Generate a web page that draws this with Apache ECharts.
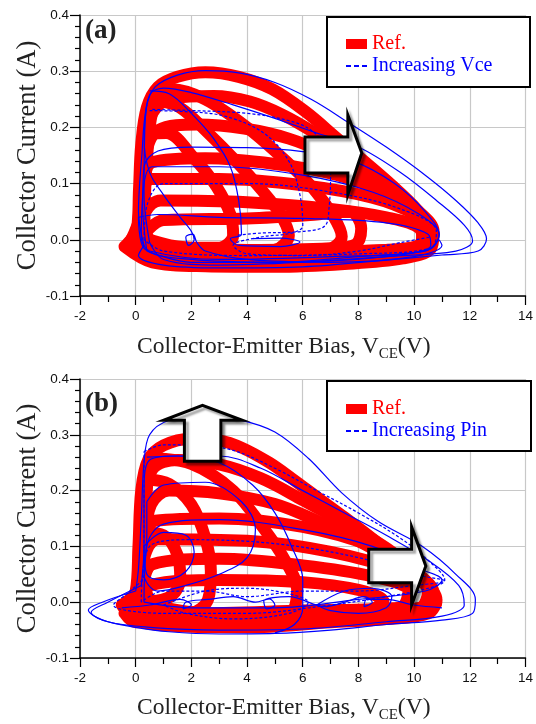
<!DOCTYPE html>
<html><head><meta charset="utf-8">
<script src="https://cdn.jsdelivr.net/npm/echarts@6/dist/echarts.min.js"></script>
<style>html,body{margin:0;padding:0;background:#fff}#c{width:536px;height:724px}</style>
</head><body><div id="c"></div>
<script>
// ---------- axis ticks ----------
const xTicks = [-2, 0, 2, 4, 6, 8, 10, 12, 14];
const yTicks = [-0.1, 0.0, 0.1, 0.2, 0.3, 0.4];

// ---------- panel (a): reference loops (red, thick) ----------
const redA1 = [[-0.4,-0.012],[0.05,0.02],[0.12,0.09],[0.2,0.17],[0.4,0.235],[0.8,0.272],[1.5,0.29],[2.5,0.298],[3.7,0.29],[4.9,0.268],[6.1,0.228],[7.2,0.182],[8.2,0.14],[9.2,0.097],[10.1,0.054],[10.7,0.015],[10.6,-0.016],[9.6,-0.033],[7.5,-0.043],[5,-0.048],[2.5,-0.047],[0.6,-0.04],[-0.4,-0.012]];
const redA2 = [[-0.2,-0.004],[0.2,0.05],[0.3,0.15],[0.5,0.215],[1.1,0.248],[2.8,0.256],[4.1,0.246],[5.3,0.222],[6.5,0.188],[7.7,0.148],[8.9,0.104],[9.9,0.06],[10.5,0.02],[10.4,-0.01],[9,-0.026],[6,-0.036],[3,-0.04],[0.6,-0.03],[-0.2,-0.004]];
const redA3 = [[0,0],[0.25,0.08],[0.35,0.15],[0.8,0.195],[2.2,0.205],[3.9,0.198],[5.5,0.18],[7,0.15],[8.4,0.112],[9.6,0.066],[10.3,0.026],[10.2,-0.008],[8.5,-0.02],[5.5,-0.03],[2.5,-0.032],[0.4,-0.022],[0,0]];
const redA4 = [[0.1,0],[0.25,0.09],[0.6,0.138],[2.5,0.145],[5,0.135],[7.2,0.116],[9,0.082],[10.1,0.042],[10.5,0.006],[10,-0.015],[7,-0.025],[4,-0.028],[1,-0.02],[0.1,0]];
const redA5 = [[0.05,0],[0.2,0.07],[0.55,0.108],[3,0.108],[6,0.097],[8.5,0.075],[10,0.046],[10.6,0.016],[10.4,-0.012],[8,-0.02],[4,-0.025],[0.8,-0.018],[0.05,0]];
const redA6 = [[0.1,0],[0.35,0.05],[0.9,0.07],[4,0.067],[7,0.055],[9,0.04],[10.2,0.02],[10.3,-0.005],[9,-0.018],[5,-0.022],[1.5,-0.02],[0.1,0]];
const redA7 = [[0.2,0.005],[1,0.035],[4,0.038],[6.5,0.045],[7.7,0.05],[8.1,0.02],[7.9,-0.008],[7,-0.015],[4,-0.018],[1.5,-0.012],[0.2,0.005]];
const redA8 = [[0.2,0],[0.3,0.12],[0.5,0.22],[0.9,0.245],[1.6,0.235],[2.6,0.19],[3.6,0.14],[4.5,0.09],[5.2,0.045],[5.5,0.008],[5,-0.018],[2.5,-0.028],[0.8,-0.02],[0.2,0]];
const redA9 = [[0.3,0],[0.4,0.14],[0.7,0.245],[1.3,0.268],[2.5,0.25],[4,0.2],[5.4,0.14],[6.4,0.09],[7.1,0.042],[7.4,0.006],[6.9,-0.018],[4,-0.032],[1,-0.026],[0.3,0]];
const redA10 = [[0.3,0.12],[0.5,0.185],[1.1,0.19],[2.1,0.145],[2.9,0.095],[3.4,0.045],[3.5,0.008],[3,-0.014],[1.6,-0.014],[0.6,-0.006],[0.3,0.05],[0.3,0.12]];

// ---------- panel (a): increasing Vce (blue, thin) ----------
const bluA1 = [[0.3,-0.01],[0.1,0.05],[0.22,0.15],[0.38,0.235],[0.7,0.272],[1.5,0.293],[2.5,0.301],[3.7,0.297],[5,0.28],[6.3,0.25],[7.6,0.21],[9,0.165],[10.4,0.115],[11.5,0.07],[12.3,0.03],[12.6,0.002],[12.3,-0.02],[11,-0.027],[9,-0.036],[6,-0.048],[3,-0.05],[1,-0.045],[0.1,-0.028],[0.3,-0.01]];
const bluA2 = [[0.5,-0.005],[0.3,0.08],[0.33,0.2],[0.5,0.258],[1,0.27],[2,0.262],[3.5,0.24],[5,0.216],[6.5,0.19],[8,0.165],[9.5,0.12],[10.8,0.07],[11.8,0.026],[12.1,-0.002],[11.5,-0.02],[9,-0.03],[6,-0.04],[3,-0.045],[1,-0.035],[0.5,-0.005]];
const bluA3 = [[0.4,-0.02],[0.25,0.06],[0.3,0.13],[0.8,0.158],[2,0.165],[4,0.164],[6,0.157],[7.8,0.14],[9.3,0.1],[10.4,0.05],[10.9,0.008],[10.5,-0.018],[8,-0.03],[5,-0.04],[2,-0.04],[0.4,-0.02]];
const bluA4 = [[0.2,0],[0.3,0.1],[0.6,0.13],[3,0.13],[6,0.115],[8.5,0.085],[10.2,0.045],[10.9,0.01],[10.4,-0.02],[7,-0.03],[3,-0.035],[0.5,-0.02],[0.2,0]];
const bluA5 = [[0.3,0],[0.4,0.06],[1,0.1],[4,0.1],[7,0.085],[9.5,0.055],[10.8,0.015],[10.6,-0.015],[8,-0.025],[4,-0.028],[1,-0.02],[0.3,0]];
const bluA6 = [[0.1,0.04],[0.8,0.045],[3,0.04],[6,0.038],[9,0.03],[10.5,0.01],[10.6,-0.01],[9,-0.03],[5,-0.04],[2,-0.035],[0.3,-0.015],[0.1,0.04]];
const bluA7 = [[0.5,0.265],[1.2,0.26],[2,0.225],[2.8,0.18],[3.4,0.13],[3.7,0.07],[3.8,0.01],[3.4,0.002],[3.7,-0.01],[5.2,-0.012],[5.9,-0.004],[5.2,0.003],[4.2,0.002]];
const bluA8 = [[0.5,0.23],[1.8,0.228],[3.2,0.22],[4.6,0.19],[5.5,0.14],[5.9,0.08],[6,0.025],[5.6,0.012],[4.5,0.005],[3.5,-0.01],[4,-0.025],[6,-0.028],[8,-0.02],[9.5,-0.005],[10.6,0.005]];
const bluA9 = [[0.6,0.232],[2,0.23],[4,0.225],[5.5,0.212],[6.3,0.195],[6.9,0.16],[7,0.12],[6.95,0.06],[6.8,0.025],[6,0.015],[4.5,0.012],[3.6,0.008]];
const bluA10 = [[0.4,0.24],[0.3,0.18],[0.5,0.12],[1,0.08],[1.6,0.04],[2,0.015],[2.1,0],[1.9,-0.01],[1.8,0.005],[2.05,0.01],[2.2,-0.005],[2.5,-0.02],[4,-0.035],[7,-0.04],[10,-0.03],[11,-0.01],[10.9,0]];

// ---------- panel (b): reference loops (red, thick) ----------
const redB1 = [[-0.5,-0.005],[0,0.02],[0.1,0.1],[0.2,0.2],[0.45,0.255],[1,0.281],[2,0.293],[3,0.29],[3.8,0.277],[4.8,0.25],[5.6,0.222],[6.6,0.185],[7.5,0.152],[8.6,0.11],[9.6,0.07],[10.4,0.035],[10.8,0.005],[10.5,-0.02],[9,-0.03],[7,-0.036],[4,-0.045],[1.5,-0.043],[0,-0.032],[-0.5,-0.005]];
const redB2 = [[-0.2,-0.01],[0.2,0.05],[0.3,0.17],[0.6,0.238],[1.5,0.255],[3,0.247],[4.5,0.222],[6,0.183],[7.5,0.142],[9,0.097],[10,0.057],[10.7,0.016],[10.5,-0.015],[8.5,-0.025],[5,-0.035],[2,-0.036],[-0.2,-0.01]];
const redB3 = [[0,-0.005],[0.3,0.1],[0.55,0.175],[1.2,0.2],[3,0.195],[5,0.176],[6.5,0.146],[8,0.11],[9.4,0.07],[10.5,0.03],[10.8,0],[10.2,-0.018],[7,-0.025],[4,-0.03],[1,-0.025],[0,-0.005]];
const redB4 = [[0.1,0],[0.3,0.1],[0.7,0.146],[3,0.15],[6,0.135],[8.5,0.1],[10,0.056],[10.6,0.015],[10.3,-0.01],[8,-0.02],[4,-0.025],[1,-0.02],[0.1,0]];
const redB5 = [[0.1,0],[0.3,0.08],[0.8,0.113],[4,0.11],[7,0.09],[9.5,0.055],[10.5,0.02],[10.2,-0.01],[7,-0.02],[3,-0.022],[0.1,0]];
const redB6 = [[0.2,0],[0.6,0.068],[3,0.078],[6,0.066],[8.5,0.046],[9.8,0.02],[9.5,-0.01],[6,-0.015],[2,-0.02],[0.2,0]];
const redB7 = [[-0.4,-0.02],[0.5,0.03],[3,0.04],[6,0.036],[8,0.022],[8.9,0.002],[8,-0.02],[5,-0.03],[2,-0.036],[0,-0.036],[-0.4,-0.02]];
const redB8 = [[0.4,0.22],[1.2,0.212],[2,0.175],[2.5,0.115],[2.7,0.055],[2.6,0.005],[2,-0.018],[1,-0.014],[0.3,0],[0.3,0.1],[0.4,0.22]];
const redB9 = [[0.5,0.258],[2,0.248],[3.5,0.2],[4.6,0.132],[5.4,0.072],[5.8,0.022],[5.5,-0.02],[3,-0.03],[0.5,-0.02],[0.3,0.1],[0.5,0.258]];
const redB10 = [[0.3,0.125],[1,0.12],[1.5,0.085],[1.6,0.042],[1.3,0.012],[0.6,0.002],[0.3,0.05],[0.3,0.125]];

// ---------- panel (b): increasing Pin (blue, thin) ----------
const bluB1 = [[0,0.02],[-1.2,0],[-1.7,-0.014],[-1.2,-0.032],[0,-0.045],[1.2,-0.053],[3,-0.057],[5,-0.056],[7,-0.05],[9,-0.04],[11,-0.032],[12.1,-0.02],[12.2,0.005],[11.5,0.05],[10.3,0.1],[8.7,0.145],[7.4,0.196],[6.2,0.258],[5,0.305],[3.8,0.326],[2.5,0.333],[1.2,0.326],[0.5,0.3],[0.3,0.25],[0.2,0.15],[0.1,0.06],[0,0.02]];
const bluB2 = [[0.2,0.03],[-1,0],[-1.6,-0.018],[-1,-0.035],[0.5,-0.045],[3,-0.05],[6,-0.048],[9,-0.035],[11,-0.025],[11.8,-0.005],[11.6,0.03],[10.5,0.075],[9,0.12],[7.5,0.16],[6,0.2],[4.5,0.24],[3,0.262],[1.5,0.262],[0.5,0.255],[0.3,0.2],[0.3,0.1],[0.2,0.03]];
const bluB3 = [[0.3,0.27],[1,0.282],[2,0.282],[3.5,0.272],[5,0.24],[6.5,0.2],[8,0.16],[9.5,0.115],[10.5,0.075],[11.1,0.04],[10.5,0.025],[9,0.01],[7,-0.005],[4,-0.02],[1,-0.02],[-0.8,-0.005],[-0.2,0.02],[0.3,0.05],[0.3,0.27]];
const bluB4 = [[0.3,0],[0.4,0.1],[1,0.14],[3,0.148],[6,0.13],[8.5,0.1],[10.2,0.06],[11,0.04],[10.4,0.02],[8,0.005],[5,-0.01],[2,-0.01],[0.3,0]];
const bluB5 = [[0.2,0],[0.5,0.1],[2,0.112],[5,0.105],[8,0.08],[10,0.05],[11.1,0.038],[10,0.03],[8,0.02],[6,0.02],[4,0.01],[2.5,0.02],[1,0.02],[0.2,0]];
const bluB6 = [[0.4,0.18],[1,0.21],[2.5,0.215],[3.8,0.18],[4.3,0.13],[4,0.08],[3,0.05],[1.8,0.03],[0.8,0.02],[0.3,0.05],[0.4,0.12],[0.4,0.18]];
const bluB7 = [[0.3,0.1],[1,0.125],[1.8,0.12],[2.1,0.09],[1.8,0.055],[1,0.04],[0.4,0.05],[0.3,0.1]];
const bluB8 = [[0.4,0.26],[1.5,0.262],[3,0.25],[4.2,0.21],[5,0.16],[5.6,0.1],[6,0.04],[6,-0.01],[5.7,-0.04],[5,-0.055]];
const bluB9 = [[-0.5,-0.01],[0.5,-0.005],[1.6,0.005],[2,-0.005],[1.7,-0.012],[1.8,0],[2.6,0.005],[3.5,0.01],[4.3,0],[4.8,0.006],[5,-0.005],[4.7,-0.012],[4.6,0.002],[5.5,0.01],[6.8,-0.008],[7.5,0],[8.2,0.01],[8.5,0],[8.2,-0.008],[8.3,0.005],[9,0.005],[10,-0.005],[11,-0.01]];
const bluB10 = [[6.5,-0.005],[7.5,0.02],[8.5,0.025],[9.2,0.01],[9,-0.01],[8,-0.02],[7,-0.015],[6.5,-0.005]];
const bluB11 = [[1,-0.005],[2.5,0.02],[4,0.025],[5.5,0.015],[6.2,0],[5.5,-0.02],[3.5,-0.03],[1.8,-0.02],[1,-0.005]];

// ---------- annotation arrows (data units) ----------
const arrowA = {bodyL:6.08, neck:7.62, tip:8.12, bodyTop:0.183, bodyBot:0.119, headTop:0.222, headBot:0.080, tipY:0.1545};
const arrowBup = {bodyL:1.75, bodyR:3.06, headL:1.0, headR:3.83, tipX:2.4, bodyBot:0.2526, neckY:0.326, tipY:0.3526};
const arrowBright = {bodyL:8.37, neck:9.91, tip:10.42, bodyTop:0.0947, bodyBot:0.035, headTop:0.135, headBot:-0.005, tipY:0.065};

const RED = '#ff0000', BLUE = '#0000ff';
const serif = "'Liberation Serif','Times New Roman',serif";
const sans = "'Liberation Sans',Arial,sans-serif";

const redA = [redA1,redA2,redA3,redA4,redA5,redA6,redA7,redA8,redA9,redA10];
const bluA = [[bluA1,'solid'],[bluA2,'solid'],[bluA3,'solid'],[bluA4,'solid'],[bluA5,[3,2]],[bluA6,'solid'],[bluA7,'solid'],[bluA8,[3,2]],[bluA9,[3,2]],[bluA10,'solid']];
const redB = [redB1,redB2,redB3,redB4,redB5,redB6,redB7,redB8,redB9,redB10];
const bluB = [[bluB1,'solid'],[bluB2,'solid'],[bluB3,[3,2]],[bluB4,'solid'],[bluB5,[3,2]],[bluB6,'solid'],[bluB7,'solid'],[bluB8,'solid'],[bluB9,'solid'],[bluB10,'solid'],[bluB11,[3,2]]];

function redSeries(d, gi){
  return {type:'line', name:'Ref.', xAxisIndex:gi, yAxisIndex:gi, data:d, symbol:'none', smooth:0.35,
    lineStyle:{color:RED, width:12, cap:'round', join:'round'}, itemStyle:{color:RED}, z:2, silent:true};
}
function bluSeries(d, type, gi, name){
  return {type:'line', name:name, xAxisIndex:gi, yAxisIndex:gi, data:d, symbol:'none', smooth:0.35,
    lineStyle:{color:BLUE, width:1.2, type:type}, itemStyle:{color:BLUE}, z:3, silent:true};
}

const series = [];
redA.forEach(d => series.push(redSeries(d,0)));
bluA.forEach(([d,t]) => series.push(bluSeries(d,t,0,'Increasing Vce')));
redB.forEach(d => series.push(redSeries(d,1)));
bluB.forEach(([d,t]) => series.push(bluSeries(d,t,1,'Increasing Pin')));

function xAxis(gi, gap){
  return {gridIndex:gi, type:'value', min:xTicks[0], max:xTicks[xTicks.length-1], interval:2,
    axisLine:{onZero:false, lineStyle:{color:'#000', width:1.5}},
    axisTick:{show:true, inside:false, length:9, lineStyle:{color:'#000', width:1.2}},
    minorTick:{show:true, splitNumber:2, length:6, lineStyle:{color:'#000', width:1.2}},
    axisLabel:{color:'#111', fontFamily:sans, fontSize:13.5, margin:13},
    splitLine:{show:true, lineStyle:{color:'#c8c8c8', width:1.2}},
    name:'Collector-Emitter Bias, V{s|CE}(V)', nameLocation:'middle', nameGap:gap, nameMoveOverlap:false,
    nameTextStyle:{fontFamily:serif, fontSize:23.5, color:'#222', lineHeight:30, padding:[0,38,0,0],
      rich:{s:{fontFamily:serif, fontSize:15, lineHeight:15, color:'#222', padding:[15,0,0,0], verticalAlign:'bottom'}}}
  };
}
function yAxis(gi){
  return {gridIndex:gi, type:'value', min:yTicks[0], max:yTicks[yTicks.length-1], interval:0.1,
    axisLine:{onZero:false, lineStyle:{color:'#000', width:1.5}},
    axisTick:{show:true, inside:false, length:10, lineStyle:{color:'#000', width:1.2}},
    minorTick:{show:true, splitNumber:5, length:5, lineStyle:{color:'#000', width:1.2}},
    axisLabel:{color:'#111', fontFamily:sans, fontSize:13.5, margin:11, formatter:v => v.toFixed(1)},
    splitLine:{show:true, lineStyle:{color:'#c8c8c8', width:1.2}},
    name:'Collector Current (A)', nameLocation:'middle', nameGap:38, nameRotate:90, nameMoveOverlap:false,
    nameTextStyle:{fontFamily:serif, fontSize:26.5, color:'#222'}
  };
}
const dashIcon = 'path://M0,0H5V2H0Z M8,0H13V2H8Z M16,0H21V2H16Z';
function legend(top, blueName){
  return {left:346, top:top, orient:'vertical', itemGap:0, itemWidth:21, itemHeight:10, padding:0, z:20,
    selectedMode:false, symbolKeepAspect:true, itemStyle:{borderWidth:0},
    textStyle:{fontFamily:serif, fontSize:20, lineHeight:22},
    data:[{name:'Ref.', icon:'rect', textStyle:{color:RED}}, {name:blueName, icon:dashIcon, textStyle:{color:BLUE}}]};
}

const chart = echarts.init(document.getElementById('c'), null, {renderer:'canvas'});
chart.setOption({
  animation:false,
  backgroundColor:'#fff',
  grid:[{left:80, right:9, top:15, height:281}, {left:80, right:9, top:379, height:285}],
  xAxis:[xAxis(0,36), xAxis(1,35)],
  yAxis:[yAxis(0), yAxis(1)],
  legend:[legend(33,'Increasing Vce'), legend(398,'Increasing Pin')],
  series:series
});

function P(gi, x, y){ return chart.convertToPixel({gridIndex:gi}, [x, y]); }
function rightArrow(gi, a){
  return [P(gi,a.bodyL,a.bodyTop),P(gi,a.neck,a.bodyTop),P(gi,a.neck,a.headTop),P(gi,a.tip,a.tipY),
          P(gi,a.neck,a.headBot),P(gi,a.neck,a.bodyBot),P(gi,a.bodyL,a.bodyBot)];
}
function upArrow(gi, a){
  return [P(gi,a.bodyL,a.bodyBot),P(gi,a.bodyL,a.neckY),P(gi,a.headL,a.neckY),P(gi,a.tipX,a.tipY),
          P(gi,a.headR,a.neckY),P(gi,a.bodyR,a.neckY),P(gi,a.bodyR,a.bodyBot)];
}
const arrowStyle = {fill:'#fff', stroke:'#000', lineWidth:3, lineJoin:'miter',
  shadowColor:'rgba(0,0,0,0.35)', shadowOffsetX:3, shadowOffsetY:3, shadowBlur:2};
chart.setOption({
  graphic:[
    {type:'rect', z:15, shape:{x:327, y:17, width:203, height:70}, style:{fill:'#fff', stroke:'#000', lineWidth:2}},
    {type:'rect', z:15, shape:{x:327, y:381, width:204, height:70}, style:{fill:'#fff', stroke:'#000', lineWidth:2}},
    {type:'text', z:16, x:85, y:31, style:{text:'(a)', font:"bold 27px 'Liberation Serif', serif", fill:'#222', verticalAlign:'middle'}},
    {type:'text', z:16, x:85, y:404, style:{text:'(b)', font:"bold 27px 'Liberation Serif', serif", fill:'#222', verticalAlign:'middle'}},
    {type:'polygon', z:16, shape:{points:rightArrow(0, arrowA)}, style:arrowStyle},
    {type:'polygon', z:16, shape:{points:upArrow(1, arrowBup)}, style:arrowStyle},
    {type:'polygon', z:16, shape:{points:rightArrow(1, arrowBright)}, style:arrowStyle}
  ]
});
</script></body></html>
